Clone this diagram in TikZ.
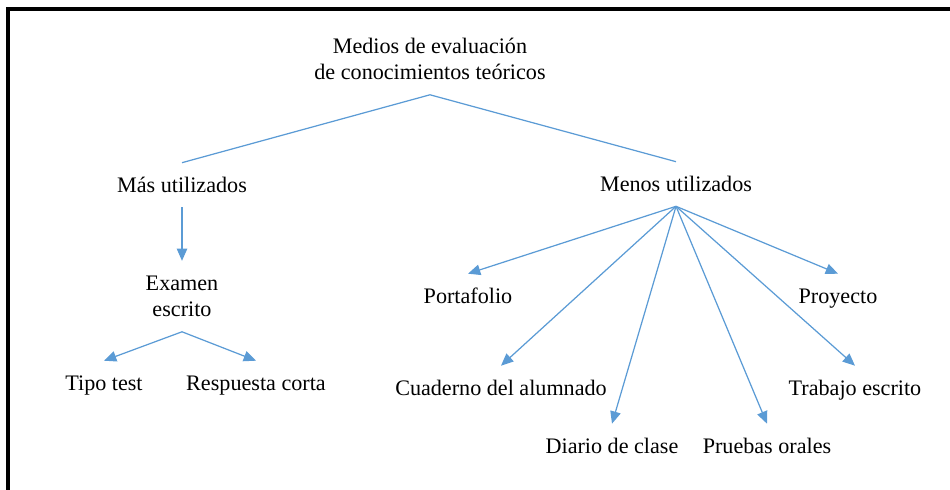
\documentclass[tikz,border=0pt]{standalone}
\usepackage{fontspec}
\setmainfont{Liberation Serif}
\usetikzlibrary{arrows.meta}
\definecolor{linkblue}{RGB}{91,155,213}

\begin{document}
\begin{tikzpicture}[x=0.02cm, y=-0.02cm,
            % Define node styles
            item/.style={inner xsep=2pt, inner ysep=6.5pt, text height=10pt, text depth=2pt, font=\fontsize{12.6}{15}\selectfont},
            twoline/.style={item, align=center, text height=25pt},
            link/.style={draw=linkblue, line width=0.7pt},
            arrow/.style={link, -{Triangle[length=7pt, width=6pt]}},
            frame/.style={line width=1.8pt}
        ]
        \useasboundingbox (0,0) rectangle (950,490);

        % Frame
        \draw[frame] (8,490) -- (8,9) -- (950,9);

        % Top
        \node[twoline, anchor=base] (medios) at (430,79.5) {Medios de evaluación\\de conocimientos teóricos};

        % Left branch
        \node[item] (mas) at (182,185) {Más utilizados};
        \node[twoline, anchor=base] (examen) at (182,316.5) {Examen\\escrito};
        \node[item] (tipo) at (104,383) {Tipo test};
        \node[item] (resp) at (256,383) {Respuesta corta};

        % Right branch
        \node[item] (menos) at (676,184) {Menos utilizados};
        \node[item] (porta) at (468,296) {Portafolio};
        \node[item] (proy) at (838,296) {Proyecto};
        \node[item] (cuad) at (501,388) {Cuaderno del alumnado};
        \node[item] (trabajo) at (855,388) {Trabajo escrito};
        \node[item] (diario) at (612,446) {Diario de clase};
        \node[item] (pruebas) at (767,446) {Pruebas orales};

        % Connections
        \draw[link] (mas.north) -- (medios.south) -- (menos.north);
        \draw[arrow] (mas) -- (examen);
        \draw[arrow] (examen.south) -- (tipo.north);
        \draw[arrow] (examen.south) -- (resp.north);
        \foreach \c in {porta,cuad,diario,pruebas,trabajo,proy}
            \draw[arrow] (menos.south) -- (\c.north);
\end{tikzpicture}
\end{document}
